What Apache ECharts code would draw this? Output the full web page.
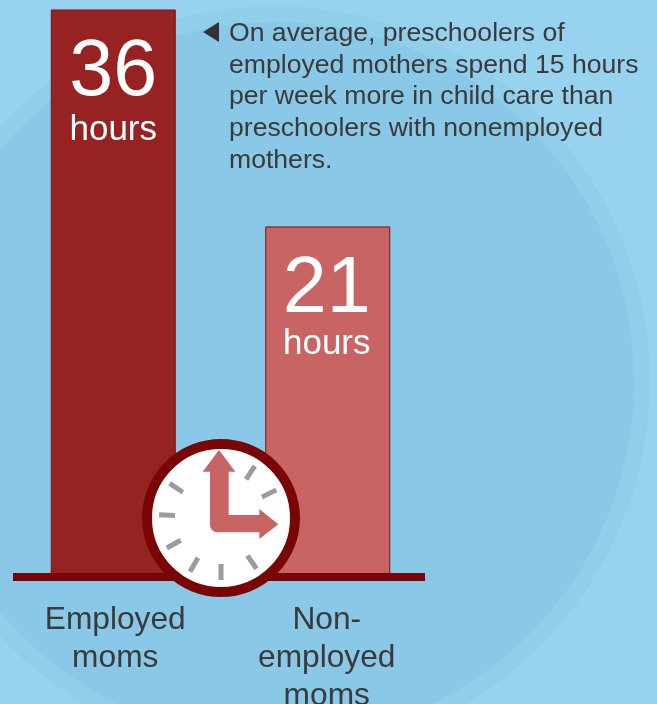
<!DOCTYPE html>
<html><head><meta charset="utf-8">
<style>html,body{margin:0;padding:0;background:#97d3ee}#c{width:657px;height:704px}</style>
<script src="https://cdn.jsdelivr.net/npm/echarts@6/dist/echarts.min.js"></script>
</head><body><div id="c"></div>
<script>
const categories = ['Employed\nmoms', 'Non-\nemployed\nmoms'];
const hours = [36, 21];
const axisFloor = -3;
const axisCeil = 36;
const barColors = ['#962222', '#c96464'];
const noteLines = [
  'On average, preschoolers of',
  'employed mothers spend 15 hours',
  'per week more in child care than',
  'preschoolers with nonemployed',
  'mothers.'
];
const clockTickAngles = [33, 63, 145, 180, 210, 241, 273, 304];

const font = '"Liberation Sans", Arial, Helvetica, sans-serif';
const cx = 221, cy = 518;
const zoomPts = [[267,60],[316,125],[296,125],[296,255],[388,255],[388,237],[445,283],[388,327],[388,307],
  [262,307],[253,305],[245,299],[241,292],[240,285],[240,125],[218,125]];
const handPoints = zoomPts.map(p => [130 + p[0] / 3, 430 + p[1] / 3]);
const unitDy = [120, 117];

const graphics = [
  {type:'circle', z:-10, silent:true, shape:{cx:275, cy:381, r:375}, style:{fill:'#90cfea'}},
  {type:'circle', z:-9, silent:true, shape:{cx:275, cy:381, r:359}, style:{fill:'#89c8e6'}},
  {type:'rect', z:5, silent:true, shape:{x:13, y:573, width:412, height:8}, style:{fill:'#7a0505'}},
  {type:'circle', z:10, silent:true, shape:{cx, cy, r:74}, style:{fill:'#fff', stroke:'#7a0505', lineWidth:10}},
  {type:'polygon', z:10, silent:true, shape:{points:[[203,32],[219,22],[219,42]]}, style:{fill:'#333'}}
];
clockTickAngles.forEach(a => {
  const t = a * Math.PI / 180, s = Math.sin(t), c = Math.cos(t);
  graphics.push({type:'line', z:11, silent:true,
    shape:{x1:cx + 46 * s, y1:cy - 46 * c, x2:cx + 62 * s, y2:cy - 62 * c},
    style:{stroke:'#9b9b9b', lineWidth:5}});
});
graphics.push({type:'polygon', z:12, silent:true, shape:{points:handPoints}, style:{fill:'#c96464'}});
noteLines.forEach((line, i) => {
  graphics.push({type:'text', z:12, silent:true, x:229, y:33.5 + i * 31.7,
    style:{text:line, fill:'#3a3a3a', font:'26.6px ' + font, verticalAlign:'middle'}});
});

const labelBase = {color:'#3a3a3a', fontFamily:font, fontSize:31.7, lineHeight:38};
const chart = echarts.init(document.getElementById('c'), null, {renderer:'canvas', width:657, height:704});
chart.setOption({
  animation:false,
  backgroundColor:'#97d3ee',
  graphic:{elements:graphics},
  grid:{left:6, width:429, top:10, height:564, outerBoundsMode:'none'},
  xAxis:{type:'category', data:categories,
    axisLine:{show:false}, axisTick:{show:false},
    axisLabel:Object.assign({}, labelBase, {margin:27, interval:0,
      formatter:(v, i) => v.split('\n').map(l => '{c' + i + '|' + l + '}').join('\n'),
      rich:{c0:Object.assign({padding:[0,0,0,4]}, labelBase), c1:Object.assign({padding:[0,2,0,0]}, labelBase)}})},
  yAxis:{type:'value', min:axisFloor, max:axisCeil, show:false, splitLine:{show:false}},
  series:[{
    type:'custom',
    data:hours,
    renderItem:(params, api) => {
      const i = params.dataIndex;
      const top = api.coord([i, api.value(1)]);
      const base = api.coord([i, axisFloor]);
      const w = 124;
      return {type:'group', children:[
        {type:'rect', shape:{x:top[0] - w / 2, y:top[1], width:w, height:base[1] - top[1]},
          style:{fill:barColors[i], stroke:'#7a1010', lineWidth:1}},
        {type:'text', x:top[0] - i, y:top[1] + 63,
          style:{text:String(api.value(1)), fill:'#fff', font:'79px ' + font, align:'center', verticalAlign:'middle'}},
        {type:'text', x:top[0] - i, y:top[1] + unitDy[i],
          style:{text:'hours', fill:'#fff', font:'35px ' + font, align:'center', verticalAlign:'middle'}}
      ]};
    },
    encode:{x:0, y:1}
  }]
});
</script></body></html>
